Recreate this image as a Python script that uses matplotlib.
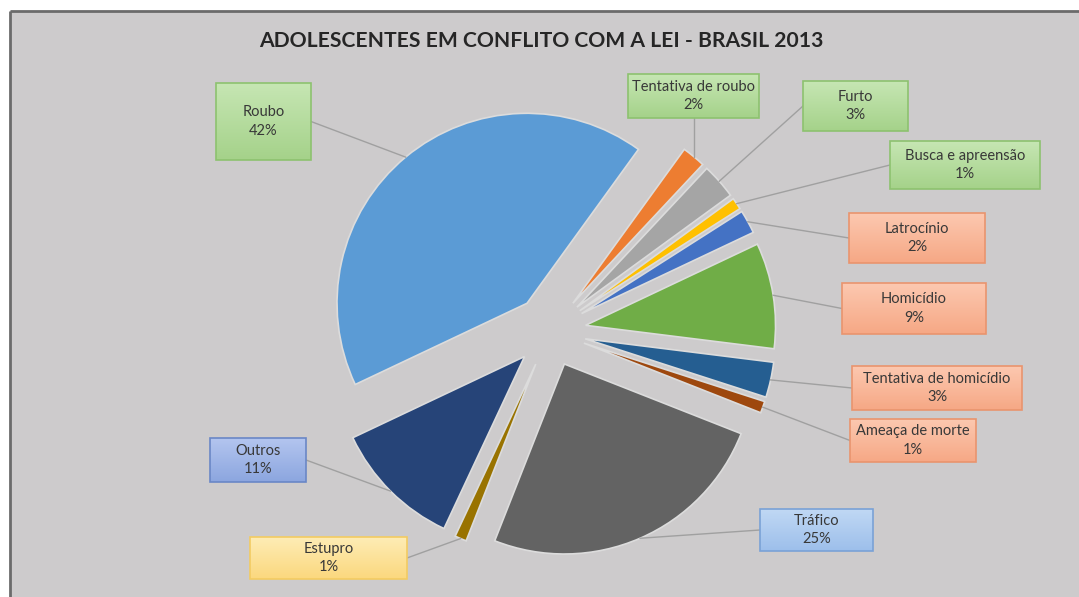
import numpy as np
import matplotlib
matplotlib.use("Agg")
import matplotlib.pyplot as plt
from matplotlib.colors import to_rgb
from matplotlib.patches import Rectangle

plt.rcParams['font.family'] = ['Lato', 'DejaVu Sans']

# data
categories = ["Roubo", "Tentativa de roubo", "Furto", "Busca e apreensão", "Latrocínio",
              "Homicídio", "Tentativa de homicídio", "Ameaça de morte", "Tráfico",
              "Estupro", "Outros"]
values = [42, 2, 3, 1, 2, 9, 3, 1, 25, 1, 11]
slice_colors = ['#5b9bd5', '#ed7d31', '#a5a5a5', '#ffc000', '#4472c4', '#70ad47',
                '#255e91', '#9e480e', '#636363', '#997300', '#264478']
title = "ADOLESCENTES EM CONFLITO COM A LEI - BRASIL 2013"

# label boxes: left, top, width, height (pixels from top-left) and style
boxes = [(216, 83, 95, 77), (628, 74, 131, 44), (803, 81, 105, 50), (890, 141, 150, 48),
         (849, 213, 136, 50), (842, 283, 144, 51), (852, 366, 170, 44), (850, 419, 126, 43),
         (760, 509, 113, 42), (250, 537, 157, 42), (210, 438, 96, 44)]
box_style = ['green', 'green', 'green', 'green', 'orange', 'orange', 'orange', 'orange',
             'trafico', 'estupro', 'outros']
styles = {
    'green': ('#c6e6b3', '#a5d28a', '#8dc26f'),
    'orange': ('#fcc8b0', '#f6a885', '#e9946e'),
    'trafico': ('#c0d8f4', '#9dbfeb', '#7aa2d6'),
    'outros': ('#b3c5ef', '#8ca6df', '#6a87c6'),
    'estupro': ('#feecb5', '#fbd87e', '#f3cb62'),
}

W, H = 1079, 597
def Y(y):
    return H - y

fig = plt.figure(figsize=(W / 100, H / 100), dpi=100, facecolor='white')
ax = fig.add_axes([0, 0, 1, 1])

# chart area
ax.add_patch(Rectangle((10, 0), W - 10, Y(11), facecolor='#cdcbcc', edgecolor='none', zorder=0))
ax.plot([10, 10], [0, Y(11)], color='#6b6b6b', lw=2, zorder=1, solid_capstyle='butt')
ax.plot([10, W], [Y(11), Y(11)], color='#6b6b6b', lw=2, zorder=1, solid_capstyle='butt')

wedges, _ = ax.pie(values, colors=slice_colors, startangle=205.3, counterclock=False,
                   radius=190, center=(550, Y(331)), explode=[36] * len(values),
                   wedgeprops=dict(edgecolor='#dcdcdc', linewidth=1.2))

for w, name, v, (bx, by, bw, bh), st in zip(wedges, categories, values, boxes, box_style):
    top_c, bot_c, edge_c = styles[st]
    grad = np.linspace(np.array(to_rgb(top_c)), np.array(to_rgb(bot_c)), 50).reshape(50, 1, 3)
    ax.imshow(grad, extent=[bx, bx + bw, Y(by + bh), Y(by)], aspect='auto',
              interpolation='bilinear', zorder=3)
    ax.add_patch(Rectangle((bx, Y(by + bh)), bw, bh, facecolor='none', edgecolor=edge_c,
                           lw=1.2, zorder=4))
    ax.text(bx + bw / 2, Y(by + bh / 2), f"{name}\n{v}%", ha='center', va='center',
            fontsize=10.5, color='#383838', linespacing=1.4, zorder=5)

    # leader line from wedge arc middle to box side
    tm = np.deg2rad((w.theta1 + w.theta2) / 2)
    cx, cy = w.center
    wx, wy = cx + w.r * np.cos(tm), cy + w.r * np.sin(tm)
    wy_px = H - wy
    if wx < bx:
        ex, ey = bx, by + bh / 2
    elif wx > bx + bw:
        ex, ey = bx + bw, by + bh / 2
    elif wy_px > by + bh:
        ex, ey = wx, by + bh
    else:
        ex, ey = wx, by
    ax.plot([wx, ex], [wy, Y(ey)], color='#a0a0a0', lw=1, zorder=2)

ax.text(541, Y(41), title, ha='center', va='center', fontsize=15.2, fontweight='bold',
        color='#262626')

ax.set_xlim(0, W)
ax.set_ylim(0, H)
ax.set_aspect('auto')
ax.axis('off')
fig.savefig('out.png', dpi=100, facecolor='white')
